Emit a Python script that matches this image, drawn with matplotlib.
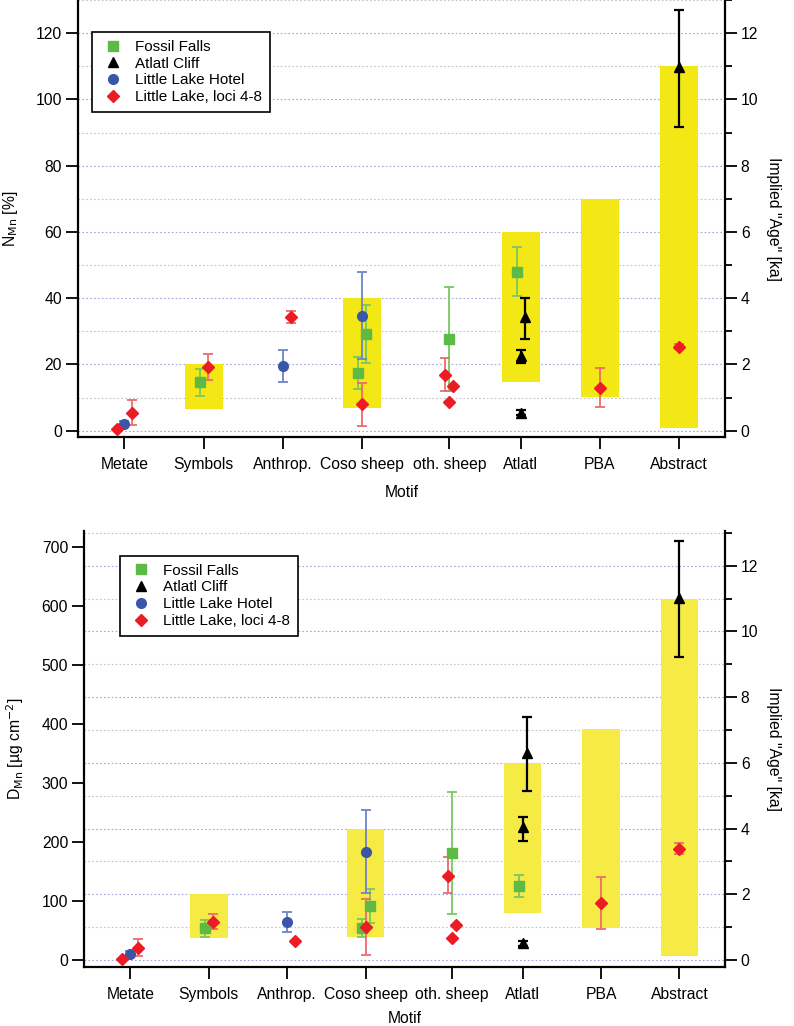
import numpy as np
import matplotlib.pyplot as plt
from matplotlib.lines import Line2D
from matplotlib.ticker import MultipleLocator

plt.rcParams['font.family'] = ['Liberation Sans', 'DejaVu Sans']
plt.rcParams['font.size'] = 11

# ---------------------------------------------------------------- data
MOTIFS = ["Metate", "Symbols", "Anthrop.", "Coso sheep", "oth. sheep",
          "Atlatl", "PBA", "Abstract"]

# yellow "implied age" ranges [ka]
BAR_CAT = ["Symbols", "Coso sheep", "Atlatl", "PBA", "Abstract"]
BAR_LO_N = [0.66, 0.68, 1.48, 1.03, 0.07]
BAR_HI_N = [2.0, 4.0, 6.0, 7.0, 11.0]
BAR_LO_D = [0.66, 0.69, 1.44, 0.98, 0.13]
BAR_HI_D = [2.0, 4.0, 6.0, 7.02, 11.0]

# Fossil Falls
FF_CAT = ["Symbols", "Coso sheep", "Coso sheep", "oth. sheep", "Atlatl"]
FF_N = [14.6, 29.1, 17.5, 27.6, 47.8]
FF_N_LO = [10.6, 20.3, 12.7, 12.0, 40.5]
FF_N_HI = [18.7, 38.0, 22.3, 43.3, 55.3]
FF_D = [53.7, 91.5, 54.8, 181.9, 126.0]
FF_D_LO = [39.5, 63.3, 39.5, 78.5, 106.8]
FF_D_HI = [67.8, 119.8, 69.0, 284.7, 144.6]

# Atlatl Cliff
AC_CAT = ["Atlatl", "Atlatl", "Atlatl", "Abstract"]
AC_N = [34.2, 22.6, 5.4, 109.7]
AC_N_LO = [27.8, 20.3, 4.6, 91.8]
AC_N_HI = [40.0, 24.4, 6.2, 127.1]
AC_D = [351.0, 224.9, 28.2, 614.0]
AC_D_LO = [287.0, 202.3, 24.0, 513.6]
AC_D_HI = [412.4, 242.4, 32.0, 710.7]

# Little Lake Hotel
LH_CAT = ["Metate", "Anthrop.", "Coso sheep"]
LH_N = [2.0, 19.4, 34.7]
LH_N_LO = [1.2, 14.6, 21.5]
LH_N_HI = [2.8, 24.4, 47.9]
LH_D = [10.7, 64.9, 183.6]
LH_D_LO = [6.5, 48.0, 113.0]
LH_D_HI = [15.0, 80.8, 253.7]

# Little Lake, loci 4-8
LL_CAT = ["Metate", "Metate", "Symbols", "Anthrop.", "Coso sheep",
          "oth. sheep", "oth. sheep", "oth. sheep", "PBA", "Abstract"]
LL_N = [0.4, 5.4, 19.2, 34.2, 7.9, 16.8, 13.4, 8.6, 12.9, 25.4]
LL_N_LO = [0.4, 1.6, 15.4, 32.6, 1.4, 12.1, 13.4, 8.6, 7.1, 24.7]
LL_N_HI = [0.4, 9.3, 23.1, 36.0, 14.3, 21.9, 13.4, 8.6, 18.8, 26.1]
LL_D = [1.7, 20.9, 64.9, 32.2, 55.9, 142.9, 58.8, 37.3, 96.1, 188.1]
LL_D_LO = [1.7, 6.2, 52.0, 32.2, 8.5, 113.0, 58.8, 37.3, 52.5, 179.2]
LL_D_HI = [1.7, 35.6, 77.4, 32.2, 102.8, 174.6, 58.8, 37.3, 140.2, 197.8]

# ---------------------------------------------------------------- layout
TICK_POS = dict(zip(MOTIFS, [0, 1, 2, 3, 4.1, 5, 6, 7]))
FF_DX = [-0.05, 0.05, -0.05, 0, -0.05]
AC_DX = [0.05, 0, 0, 0]
LH_DX = [0, 0, 0]
LL_DX = [-0.1, 0.1, 0.05, 0.1, 0, -0.05, 0.05, 0, 0, 0]

GREEN, GREEN_E = "#5dba45", "#78c862"
BLACK, BLACK_E = "#000000", "#000000"
BLUE, BLUE_E = "#3a56a8", "#6d84c6"
RED, RED_E = "#ec1c24", "#f06a6a"

# name, marker, size, face colour, error colour, error width, ...
SERIES = [
    ("Fossil Falls", "s", 7.4, GREEN, GREEN_E, 1.3, FF_CAT, FF_DX,
     (FF_N, FF_N_LO, FF_N_HI), (FF_D, FF_D_LO, FF_D_HI)),
    ("Atlatl Cliff", "^", 7.8, BLACK, BLACK_E, 1.6, AC_CAT, AC_DX,
     (AC_N, AC_N_LO, AC_N_HI), (AC_D, AC_D_LO, AC_D_HI)),
    ("Little Lake Hotel", "o", 7.0, BLUE, BLUE_E, 1.3, LH_CAT, LH_DX,
     (LH_N, LH_N_LO, LH_N_HI), (LH_D, LH_D_LO, LH_D_HI)),
    ("Little Lake, loci 4-8", "D", 6.6, RED, RED_E, 1.3, LL_CAT, LL_DX,
     (LL_N, LL_N_LO, LL_N_HI), (LL_D, LL_D_LO, LL_D_HI)),
]

fig = plt.figure(figsize=(7.94, 10.26), dpi=100)
ax_top = fig.add_axes([0.0979, 0.5738, 0.8152, 0.4262])
ax_bot = fig.add_axes([0.1058, 0.0572, 0.8073, 0.4257])


def draw_panel(ax, which, bar_lo, bar_hi, bar_color, ylim, ylim_age,
               ymajor, ylabel, legend_xy, xpad):
    ax2 = ax.twinx()
    ax.set_zorder(ax2.get_zorder() + 1)
    ax.patch.set_visible(False)

    bx = [TICK_POS[c] for c in BAR_CAT]
    ax2.bar(bx, np.array(bar_hi) - np.array(bar_lo), bottom=bar_lo,
            width=0.48, color=bar_color, linewidth=0, zorder=2)

    for (name, mk, ms, fc, ec, ew, cats, dx, nvals, dvals) in SERIES:
        v, lo, hi = nvals if which == "N" else dvals
        v, lo, hi = np.array(v), np.array(lo), np.array(hi)
        x = np.array([TICK_POS[c] for c in cats]) + np.array(dx)
        ax.errorbar(x, v, yerr=[v - lo, hi - v], fmt="none", ecolor=ec,
                    elinewidth=ew, capsize=3.8, capthick=ew, zorder=3)
        ax.plot(x, v, ls="none", marker=mk, ms=ms, mfc=fc, mec=fc,
                zorder=4)

    ax.set_xlim(-0.59, 7.58)
    ax.set_ylim(*ylim)
    ax2.set_ylim(*ylim_age)
    ax.set_xticks([TICK_POS[m] for m in MOTIFS])
    ax.set_xticklabels(MOTIFS)
    ax.yaxis.set_major_locator(MultipleLocator(ymajor))
    ax2.yaxis.set_major_locator(MultipleLocator(2))
    ax2.yaxis.set_minor_locator(MultipleLocator(1))

    ax2.grid(which="major", axis="y", color="#a4a4e0", ls=(0, (1.5, 2)),
             lw=0.8)
    ax2.grid(which="minor", axis="y", color="#c4c4c4", ls=(0, (1.5, 2)),
             lw=0.8)
    ax2.set_axisbelow(True)

    for a in (ax, ax2):
        a.spines["top"].set_visible(False)
        for s in ("left", "right", "bottom"):
            a.spines[s].set_linewidth(1.6)
    ax.spines["right"].set_visible(False)
    ax2.spines["left"].set_visible(False)
    ax2.spines["bottom"].set_visible(False)

    ax.tick_params(axis="both", direction="out", length=8.4, width=1.3,
                   labelsize=11.3)
    ax.tick_params(axis="x", pad=6)
    ax.tick_params(axis="y", pad=3)
    ax2.tick_params(axis="y", which="major", direction="out", length=8.4,
                    width=1.3, labelsize=11.3, pad=3)
    ax2.tick_params(axis="y", which="minor", direction="out", length=5,
                    width=1.3)

    ax.set_xlabel("Motif", fontsize=11.3, labelpad=xpad)
    ax.set_ylabel(ylabel, fontsize=11.3, labelpad=11)
    ax2.set_ylabel('Implied "Age" [ka]', fontsize=11.3, rotation=270,
                   labelpad=16)

    handles = [Line2D([0], [0], ls="none", marker=s[1], ms=s[2], mfc=s[3],
                      mec=s[3], label=s[0])
               for s in SERIES]
    leg = ax.legend(handles=handles, loc="upper left",
                    bbox_to_anchor=legend_xy, fontsize=11, frameon=True,
                    fancybox=False, edgecolor="black", framealpha=1,
                    handlelength=1.7, handletextpad=0.62, labelspacing=0.18,
                    borderpad=0.5, borderaxespad=0)
    leg.get_frame().set_linewidth(1.2)


draw_panel(ax_top, "N", BAR_LO_N, BAR_HI_N, "#f4e716", (-2, 130),
           (-0.2, 13), 20, r"N$_{\mathrm{Mn}}$ [%]", (0.0226, 0.926), 9)
draw_panel(ax_bot, "D", BAR_LO_D, BAR_HI_D, "#f6ea45", (-12.4, 728),
           (-0.222, 13.07), 100,
           r"D$_{\mathrm{Mn}}$ [µg cm$^{-2}$]", (0.056, 0.9416), 6.5)

fig.savefig("out.png", dpi=100)
